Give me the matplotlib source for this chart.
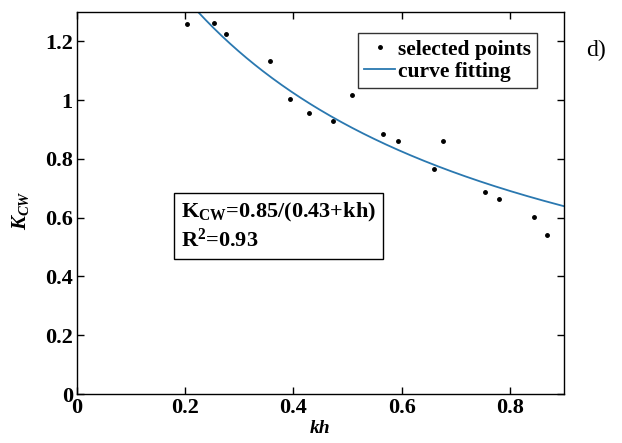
"""
K_CW versus kh with curve fitting
"""

import matplotlib

matplotlib.use("Agg")
import matplotlib.pyplot as plt
import numpy as np

plt.rcParams["font.family"] = ["Liberation Serif", "DejaVu Serif"]
plt.rcParams["mathtext.fontset"] = "custom"
plt.rcParams["mathtext.rm"] = "Liberation Serif:bold"
plt.rcParams["mathtext.bf"] = "Liberation Serif:bold"
plt.rcParams["mathtext.it"] = "Liberation Serif:italic:bold"

## selected points
kh_pts = [0.204, 0.254, 0.276, 0.356, 0.394, 0.429, 0.473, 0.509,
          0.565, 0.594, 0.659, 0.676, 0.754, 0.780, 0.844, 0.869]
kcw_pts = [1.258, 1.261, 1.224, 1.132, 1.003, 0.956, 0.930, 1.018,
           0.885, 0.861, 0.766, 0.861, 0.688, 0.665, 0.603, 0.542]

## fit coefficients: K_CW = a / (b + kh)
fit_a = 0.85
fit_b = 0.43

x_ticks = [0, 0.2, 0.4, 0.6, 0.8]
x_tick_labels = ["0", "0.2", "0.4", "0.6", "0.8"]
y_ticks = [0, 0.2, 0.4, 0.6, 0.8, 1.0, 1.2]
y_tick_labels = ["0", "0.2", "0.4", "0.6", "0.8", "1", "1.2"]


def plot_data() -> None:
    fig = plt.figure(figsize=(6.22, 4.43), dpi=100)
    ax = fig.add_axes([0.1238, 0.1106, 0.783, 0.8623])

    kh = np.linspace(0.15, 0.9, 300)
    ax.plot(kh_pts, kcw_pts, linestyle="none", marker=".", color="black",
            markersize=5, label="selected points")
    ax.plot(kh, fit_a / (fit_b + kh), color="#2a78b0", lw=1.3,
            label="curve fitting")

    ax.set_xlim(0, 0.9)
    ax.set_ylim(0, 1.3)
    ax.set_xticks(x_ticks)
    ax.set_xticklabels(x_tick_labels)
    ax.set_yticks(y_ticks)
    ax.set_yticklabels(y_tick_labels)
    ax.tick_params(direction="in", top=True, right=True, length=5,
                   width=1.0, labelsize=16)
    ax.tick_params(axis="x", pad=3)
    ax.tick_params(axis="y", pad=3)
    for lab in ax.get_xticklabels() + ax.get_yticklabels():
        lab.set_fontweight("bold")
    for sp in ax.spines.values():
        sp.set_linewidth(1.0)

    ax.set_xlabel("kh", fontsize=14, fontstyle="italic", fontweight="bold",
                  labelpad=1)
    ax.set_ylabel(r"$\mathit{K_{CW}}$", fontsize=15)
    ax.yaxis.set_label_coords(-0.095, 0.48)

    leg = ax.legend(loc="upper right", bbox_to_anchor=(0.9446, 0.945),
                    prop={"weight": "bold", "size": 15.5}, frameon=True,
                    fancybox=False, edgecolor="black", handlelength=1.45,
                    handletextpad=0.1, borderpad=0.3, labelspacing=0.1,
                    borderaxespad=0)
    leg.get_frame().set_linewidth(1.0)

    ax.text(0.2136, 0.505,
            "K$_\\mathrm{CW}$=0.85/(0.43+kh)\nR$^\\mathrm{2}$=0.93",
            transform=ax.transAxes, fontsize=16, fontweight="bold",
            va="top", ha="left", linespacing=1.25,
            bbox=dict(boxstyle="square,pad=0.3", facecolor="white",
                      edgecolor="black", linewidth=1.0))

    fig.text(0.958, 0.887, "d)", fontsize=17, ha="center", va="center")

    fig.savefig("out.png", dpi=100)


if __name__ == "__main__":
    plot_data()
